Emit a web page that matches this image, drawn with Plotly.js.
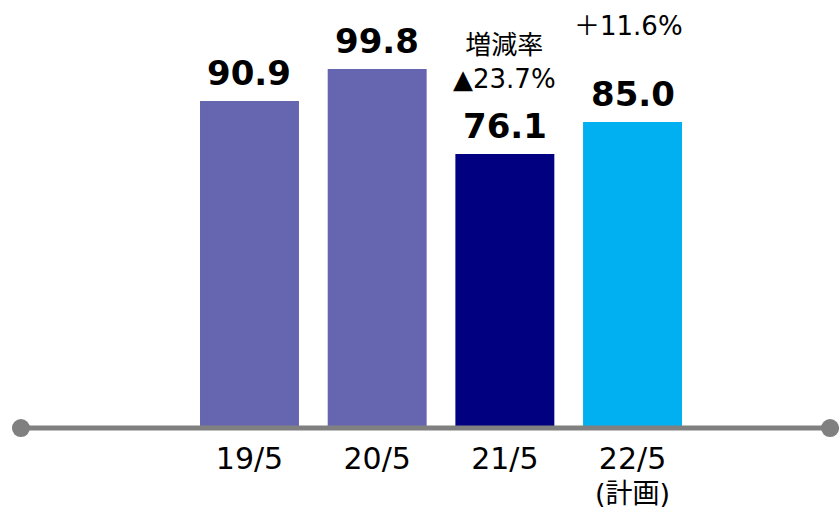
<!DOCTYPE html>
<html>
<head>
<meta charset="utf-8">
<script src="https://cdn.plot.ly/plotly-3.0.1.min.js"></script>
<style>
  html, body { margin: 0; padding: 0; background: #fff; }
  #chart { width: 839px; height: 510px; }
</style>
</head>
<body>
<div id="chart"></div>
<script>
const categories = ['19/5', '20/5', '21/5', '22/5'];
const subLabels = ['', '', '', '(計画)'];
const values = [90.9, 99.8, 76.1, 85.0];
const valueLabels = ['90.9', '99.8', '76.1', '85.0'];
const barColors = ['#6666B0', '#6666B0', '#000080', '#00B0F0'];
const rateLabels = ['', '', '増減率<br>▲23.7%', '＋11.6%'];

const xs = categories.map((c, i) => i);
const font = 'DejaVu Sans, Verdana, Noto Sans CJK JP, sans-serif';
// lift of the rate labels above their bar
const rateShift = { 2: 58, 3: 79 };
const rateXShift = { 2: 0, 3: -4 };

const bars = {
    type: 'bar',
    x: xs,
    y: values,
    width: 0.775,
    marker: { color: barColors },
    hoverinfo: 'skip'
};

// axis end dots
const dots = {
    type: 'scatter',
    mode: 'markers',
    x: [-1.79, 4.547],
    y: [-0.3, -0.3],
    marker: { color: '#808080', size: 18 },
    cliponaxis: false,
    hoverinfo: 'skip'
};

const annotations = [];
values.forEach((v, i) => {
    annotations.push({
        x: xs[i], y: v, xref: 'x', yref: 'y',
        text: '<b>' + valueLabels[i] + '</b>',
        showarrow: false, yanchor: 'bottom', yshift: 6,
        font: { family: font, size: 34, color: '#000' }
    });
    if (rateLabels[i]) {
        annotations.push({
            x: xs[i], y: v, xref: 'x', yref: 'y',
            text: rateLabels[i],
            showarrow: false, yanchor: 'bottom',
            yshift: rateShift[i], xshift: rateXShift[i],
            font: { family: font, size: 26, color: '#000' }
        });
    }
    if (subLabels[i]) {
        annotations.push({
            x: xs[i], y: 0, xref: 'x', yref: 'paper',
            text: subLabels[i],
            showarrow: false, yanchor: 'middle', yshift: -55,
            borderpad: 0,
            font: { family: font, size: 27, color: '#000' }
        });
    }
});

const layout = {
    width: 839,
    height: 510,
    margin: { l: 0, r: 0, t: 0, b: 72 },
    paper_bgcolor: '#fff',
    plot_bgcolor: '#fff',
    showlegend: false,
    xaxis: {
        range: [-1.954, 4.617],
        tickvals: xs,
        ticktext: categories,
        showgrid: false,
        zeroline: false,
        showline: false,
        ticks: '',
        ticklabelstandoff: 0,
        tickfont: { family: font, size: 30, color: '#000' }
    },
    yaxis: {
        range: [-3.067, 119.04],
        visible: false,
        showgrid: false,
        zeroline: false
    },
    shapes: [{
        type: 'line', xref: 'x', yref: 'y',
        x0: -1.79, x1: 4.547, y0: -0.3, y1: -0.3,
        line: { color: '#808080', width: 5 }
    }],
    annotations: annotations
};

Plotly.newPlot('chart', [bars, dots], layout, { displayModeBar: false, staticPlot: true });
</script>
</body>
</html>
